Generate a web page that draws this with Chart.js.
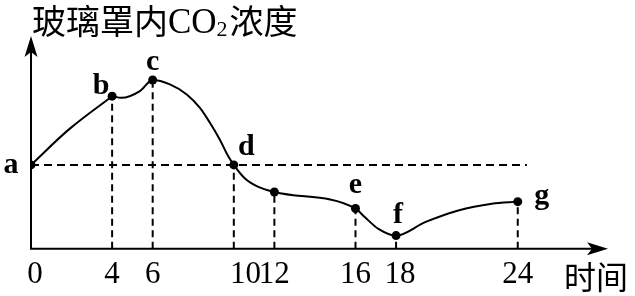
<!DOCTYPE html>
<html><head><meta charset="utf-8">
<script src="https://cdn.jsdelivr.net/npm/chart.js@4/dist/chart.umd.min.js"></script>
<style>html,body{margin:0;padding:0;background:#fff;overflow:hidden}#wrap{width:635px;height:296px}</style>
</head><body><div id="wrap"><canvas id="c" width="635" height="296"></canvas></div>
<script>
// ---- data ----
const titleMain = '玻璃罩内';
const titleGas = 'CO';
const titleSub = '2';
const titleTail = '浓度';
const xAxisTitle = '时间';
const pointNames = ['a', 'b', 'c', 'd', '', 'e', 'f', 'g'];
const pointTimes = [0, 4, 6, 10, 12, 16, 18, 24];
const pointConc = [4, 7.28, 8.05, 4, 2.71, 1.92, 0.63, 2.25];
// extra readings along the drawn curve, rising part (a to b)
const riseTimes = [1.9];
const riseConc  = [5.72];
// extra readings along the drawn curve after b
const shapeTimes = [4.47, 5.37, 6.85, 7.68, 8.33, 8.83, 9.32, 9.65, 10.55, 11.21, 16.47, 17.13, 19.43, 21.07, 22.72];
const shapeConc  = [7.2, 7.52, 7.84, 7.36, 6.72, 6.0, 5.19, 4.55, 3.35, 2.95, 1.5, 0.95, 1.27, 1.83, 2.15];
const tickValues = [0, 4, 6, 10, 12, 16, 18, 24];
const tickLabels = ['0', '4', '6', '10', '12', '16', '18', '24'];
const referenceLevel = 4;
const referenceEnd = 24.45;
const xMax = 28.45;
const yMax = 10.15;

// ---- styling (not data) ----
const labelOffsets = { a: [-20, 8], b: [-11, -2], c: [0, -10], d: [12.5, -10], e: [0, -16], f: [2, -13], g: [24, 2] };
const tickShift = { 0: ' ', 10: '   ', 18: ' ' };

const keyPoints = pointTimes.map((t, i) => ({ x: t, y: pointConc[i] }));
const risePoints = [keyPoints[0], ...riseTimes.map((t, i) => ({ x: t, y: riseConc[i] })), keyPoints[1]];
const curvePoints = keyPoints.slice(1).concat(shapeTimes.map((t, i) => ({ x: t, y: shapeConc[i] })))
  .sort((p, q) => p.x - q.x);

const dashedDatasets = [];
pointTimes.forEach((t, i) => {
  if (t === 0) return;
  dashedDatasets.push({
    type: 'line', data: [{ x: t, y: 0 }, { x: t, y: pointConc[i] }],
    borderColor: '#000', borderWidth: 2, borderDash: [7, 4.5], pointRadius: 0, fill: false, tension: 0
  });
});
dashedDatasets.push({
  type: 'line', data: [{ x: 0, y: referenceLevel }, { x: referenceEnd, y: referenceLevel }],
  borderColor: '#000', borderWidth: 2, borderDash: [8, 5], pointRadius: 0, fill: false, tension: 0
});

function arrow(ctx, tipX, tipY, dir) {
  const len = 21, half = 6.5, notch = 5;
  ctx.save();
  ctx.translate(tipX, tipY);
  ctx.rotate(dir);
  ctx.beginPath();
  ctx.moveTo(0, 0);
  ctx.lineTo(-len, -half);
  ctx.lineTo(-len + notch, 0);
  ctx.lineTo(-len, half);
  ctx.closePath();
  ctx.fillStyle = '#000';
  ctx.fill();
  ctx.restore();
}

const decor = {
  id: 'decor',
  beforeDatasetsDraw(chart) {
    const ctx = chart.ctx, xs = chart.scales.x, ys = chart.scales.y;
    const x0 = xs.getPixelForValue(0), y0 = ys.getPixelForValue(0);
    const xEnd = xs.getPixelForValue(xMax), yTop = ys.getPixelForValue(yMax);
    ctx.save();
    ctx.strokeStyle = '#000';
    ctx.lineWidth = 2;
    ctx.beginPath();
    ctx.moveTo(x0, y0); ctx.lineTo(xEnd - 8, y0);
    ctx.moveTo(x0, y0 + 1); ctx.lineTo(x0, yTop + 8);
    ctx.stroke();
    arrow(ctx, xEnd, y0, 0);
    arrow(ctx, x0, yTop, -Math.PI / 2);
    ctx.restore();
  },
  afterDraw(chart) {
    const ctx = chart.ctx, xs = chart.scales.x, ys = chart.scales.y;
    ctx.save();
    ctx.fillStyle = '#000';
    ctx.textBaseline = 'alphabetic';
    // title
    let x = 32;
    ctx.textAlign = 'left';
    ctx.font = '34px "Noto Sans CJK SC"';
    ctx.fillText(titleMain, x, 34);
    x += ctx.measureText(titleMain).width;
    ctx.font = '35px "Liberation Serif"';
    ctx.fillText(titleGas, x, 33);
    x += ctx.measureText(titleGas).width;
    ctx.font = '22px "Liberation Serif"';
    ctx.fillText(titleSub, x, 36);
    x += ctx.measureText(titleSub).width + 2;
    ctx.font = '34px "Noto Sans CJK SC"';
    ctx.fillText(titleTail, x, 34);
    // x-axis title
    ctx.font = '32px "Noto Sans CJK SC"';
    ctx.fillText(xAxisTitle, 564, 289);
    // point names
    ctx.font = 'bold 30px "Liberation Serif"';
    ctx.textAlign = 'center';
    pointNames.forEach((n, i) => {
      if (!n) return;
      const px = xs.getPixelForValue(pointTimes[i]);
      const py = ys.getPixelForValue(pointConc[i]);
      const o = labelOffsets[n];
      ctx.fillText(n, px + o[0], py + o[1]);
    });
    ctx.restore();
  }
};

new Chart(document.getElementById('c'), {
  data: {
    datasets: [
      ...dashedDatasets,
      { type: 'line', data: risePoints, borderColor: '#000', borderWidth: 2, pointRadius: 0,
        tension: 0.35, fill: false },
      { type: 'line', data: curvePoints, borderColor: '#000', borderWidth: 2, pointRadius: 0,
        cubicInterpolationMode: 'monotone', fill: false },
      { type: 'scatter', data: keyPoints, pointRadius: 4.5, backgroundColor: '#000', borderWidth: 0 }
    ]
  },
  options: {
    responsive: false, animation: false, devicePixelRatio: 1,
    layout: { padding: { left: 31, right: 27, top: 36, bottom: -4 } },
    plugins: { legend: { display: false }, tooltip: { enabled: false }, title: { display: false } },
    scales: {
      x: {
        type: 'linear', min: 0, max: xMax,
        afterBuildTicks: axis => { axis.ticks = tickValues.map(v => ({ value: v })); },
        ticks: {
          autoSkip: false, maxRotation: 0, minRotation: 0, padding: 7, color: '#000',
          font: { family: 'Liberation Serif', size: 31 },
          callback: v => (tickShift[v] || '') + tickLabels[tickValues.indexOf(v)]
        },
        grid: { display: false, drawTicks: false, tickLength: 0 },
        border: { display: false }
      },
      y: { type: 'linear', min: 0, max: yMax, display: false }
    }
  },
  plugins: [decor]
});
</script>
</body></html>
